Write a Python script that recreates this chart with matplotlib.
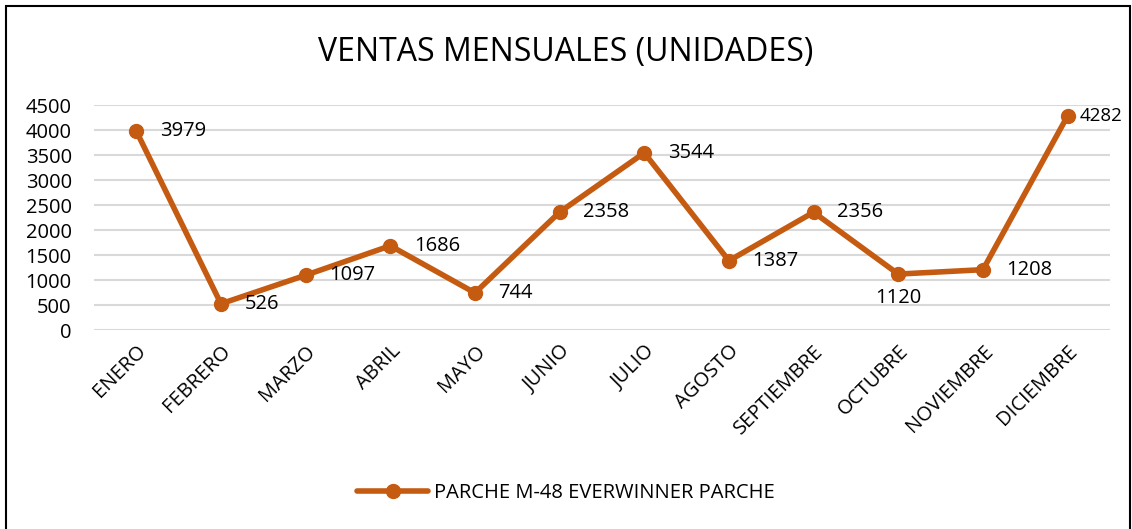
import matplotlib.pyplot as plt
from matplotlib.patches import Rectangle

# Data
meses = ['ENERO', 'FEBRERO', 'MARZO', 'ABRIL', 'MAYO', 'JUNIO', 'JULIO',
         'AGOSTO', 'SEPTIEMBRE', 'OCTUBRE', 'NOVIEMBRE', 'DICIEMBRE']
ventas = [3979, 526, 1097, 1686, 744, 2358, 3544, 1387, 2356, 1120, 1208, 4282]
serie = 'PARCHE M-48 EVERWINNER PARCHE'
titulo = 'VENTAS MENSUALES (UNIDADES)'

plt.rcParams['font.family'] = ['Open Sans', 'DejaVu Sans']
color = '#C55A11'

fig = plt.figure(figsize=(11.32, 5.29), dpi=100)
ax = fig.add_axes([0.083, 0.376, 0.8975, 0.4255])

x = range(len(meses))
ax.plot(x, ventas, color=color, linewidth=4, marker='o', markersize=10,
        label=serie, solid_capstyle='round', zorder=3)

# data labels to the right of each point (OCTUBRE sits below, last one squeezed)
for i, v in enumerate(ventas):
    if meses[i] == 'OCTUBRE':
        ax.annotate(str(v), (i, v), xytext=(0, -17), textcoords='offset points',
                    ha='center', va='center', fontsize=14.5)
    elif i == len(ventas) - 1:
        ax.annotate(str(v), (i, v), xytext=(9, 0), textcoords='offset points',
                    ha='left', va='center', fontsize=13.5)
    else:
        ax.annotate(str(v), (i, v), xytext=(17, 0), textcoords='offset points',
                    ha='left', va='center', fontsize=14.5)

ax.set_xlim(-0.5, len(meses) - 0.5)
ax.set_ylim(0, 4500)
ax.set_yticks(range(0, 4501, 500))
ax.set_xticks(list(x))
ax.set_xticklabels(meses, rotation=45, ha='right', rotation_mode='anchor', fontsize=14.5)
ax.tick_params(axis='y', labelsize=14.5, length=0, pad=16)
ax.tick_params(axis='x', length=0, pad=8)
ax.grid(axis='y', color='#D9D9D9', linewidth=1.5)
ax.set_axisbelow(True)
for s in ax.spines.values():
    s.set_visible(False)

fig.text(0.5, 0.9, titulo, ha='center', va='center', fontsize=23)

fig.legend(loc='center', bbox_to_anchor=(0.5, 0.068), frameon=False, fontsize=14.5,
           handlelength=3.5, handletextpad=0.3)

# outer chart border
fig.patches.append(Rectangle((0.005, -0.01), 0.993, 0.998, transform=fig.transFigure,
                             fill=False, edgecolor='black', linewidth=1.5))

fig.savefig('out.png', dpi=100)
